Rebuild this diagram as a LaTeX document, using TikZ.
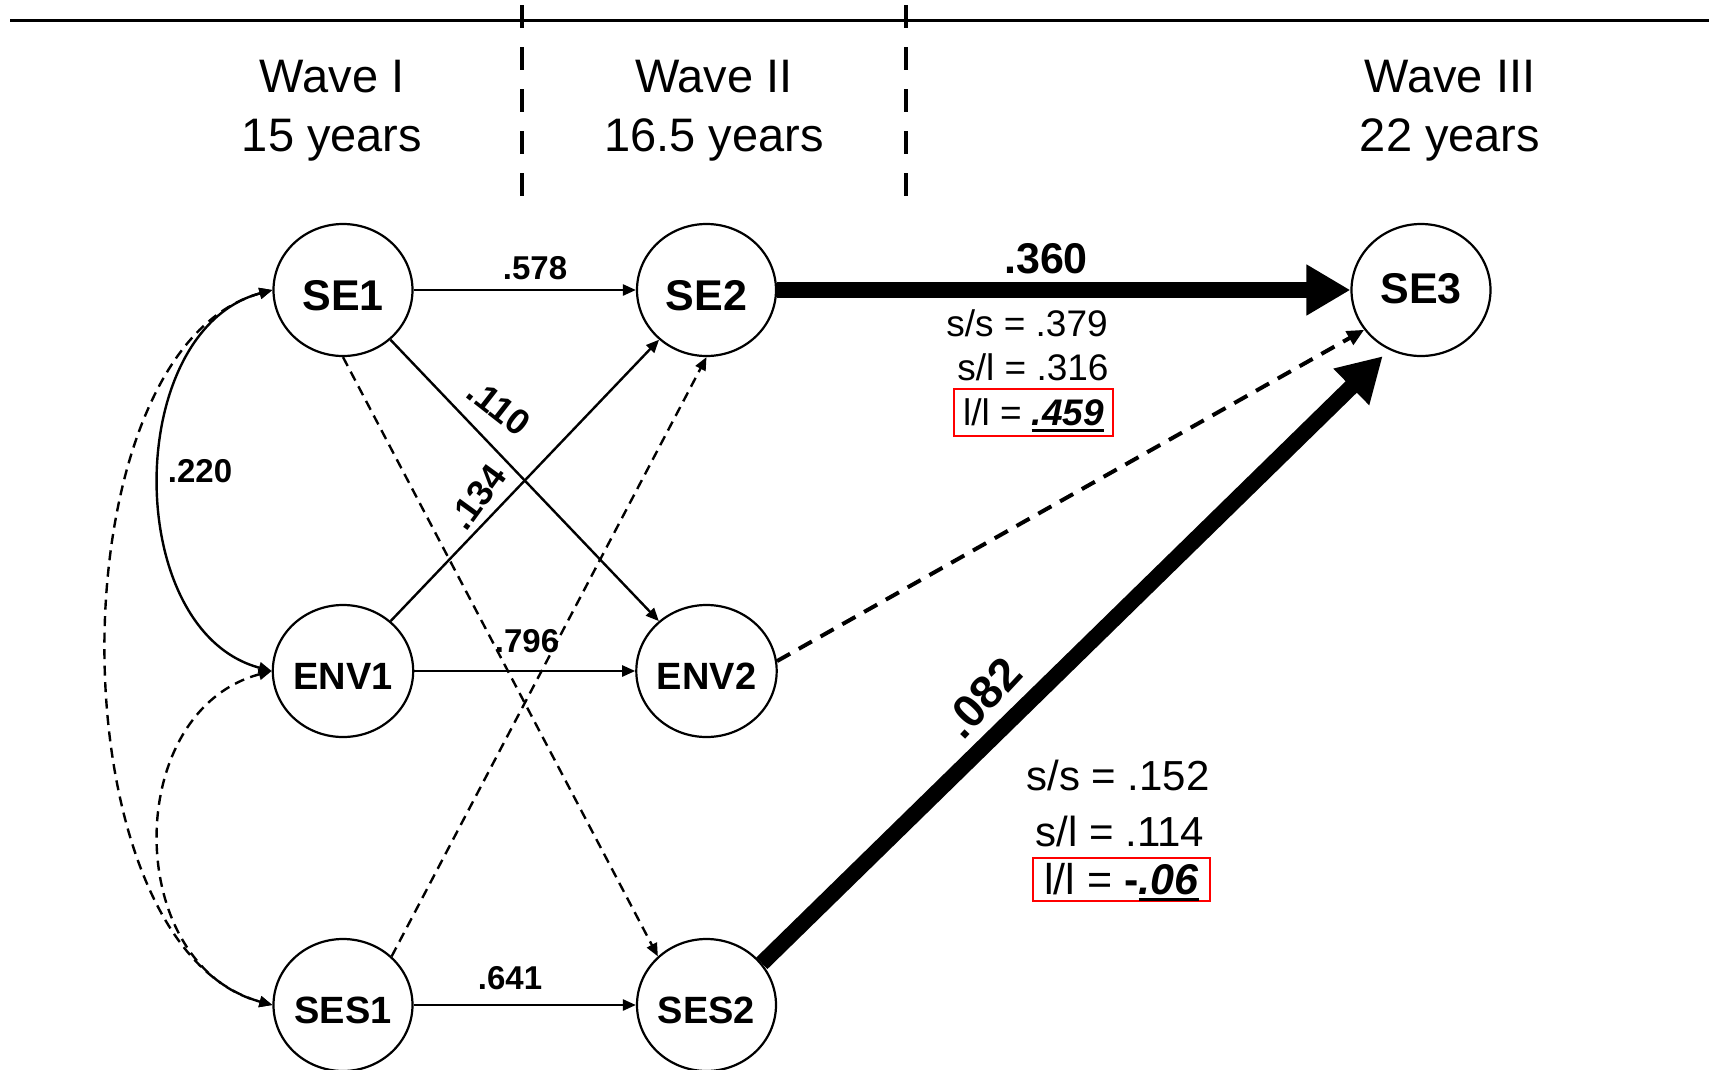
\documentclass[tikz,border=0pt]{standalone}
\usepackage{fontspec}
\setmainfont{Liberation Sans}
\usetikzlibrary{arrows.meta,shapes.geometric}
\newcommand{\ulx}[1]{\setbox0\hbox{#1}\rlap{\rule[-6pt]{\wd0}{3pt}}\box0}
\begin{document}
\begin{tikzpicture}[x=1pt,y=-1pt,
  every node/.style={inner sep=0pt},
  var/.style={ellipse,draw,line width=2.2pt,minimum width=139pt,minimum height=132pt,
    font=\bfseries\fontsize{38}{40}\selectfont,text height=37pt,text depth=0pt},
  varbig/.style={var,font=\bfseries\fontsize{43}{45}\selectfont,text height=41pt},
  lab/.style={text height=#1,text depth=0pt},
  coef/.style={lab=23.8pt,font=\bfseries\fontsize{33}{35}\selectfont},
  coefrot/.style={lab=25.9pt,font=\bfseries\fontsize{36}{38}\selectfont},
  coefbig/.style={lab=31pt,font=\bfseries\fontsize{43}{45}\selectfont},
  coefhuge/.style={lab=33pt,font=\bfseries\fontsize{46}{48}\selectfont},
  stat/.style={lab=26.6pt,font=\fontsize{37}{39}\selectfont},
  statb/.style={lab=30.2pt,font=\fontsize{42}{44}\selectfont},
  redbox/.style={draw=red,line width=2pt},
  wave/.style={align=center,font=\fontsize{47}{59}\selectfont},
  arrthin/.style={line width=2.4pt,-{Triangle[length=13pt,width=11pt]}},
  arrdash/.style={arrthin,dash pattern=on 10pt off 6.5pt},
  arrmed/.style={line width=4pt,dash pattern=on 15pt off 10pt,-{Triangle[length=17pt,width=15pt]}},
  arrbig/.style={line width=16pt,-{Triangle[length=44pt,width=48pt]}},
  arrboth/.style={line width=2.4pt,{Triangle[length=13pt,width=11pt]}-{Triangle[length=13pt,width=11pt]}},
  arrbothdash/.style={arrboth,dash pattern=on 10pt off 6.5pt},
  divider/.style={line width=4.5pt,dash pattern=on 23pt off 19pt}
]
\useasboundingbox (0,0) rectangle (1709,1069);

% header
\draw[line width=3pt] (10,20) -- (1709,20);
\draw[divider] (522,5) -- (522,197);
\draw[divider] (906,5) -- (906,197);
\node[wave] (w1) at (332,110.5) {Wave I\\15 years};
\node[wave] (w2) at (714,110.5) {Wave II\\16.5 years};
\node[wave] (w3) at (1450,110.5) {Wave III\\22 years};

% variables
\node[varbig] (SE1) at (343,290) {SE1};
\node[varbig] (SE2) at (706.5,290) {SE2};
\node[varbig,text height=27pt] (SE3) at (1421,290) {SE3};
\node[var] (ENV1) at (343,671) {ENV1};
\node[var] (ENV2) at (706.5,671) {ENV2};
\node[var] (SES1) at (343,1005) {SES1};
\node[var] (SES2) at (706.5,1005) {SES2};

% paths
\draw[arrthin] (SE1) -- (SE2);
\draw[arrthin] (SE1) -- (ENV2);
\draw[arrthin] (ENV1) -- (SE2);
\draw[arrthin] (ENV1) -- (ENV2);
\draw[arrthin] (SES1) -- (SES2);
\draw[arrdash] (SE1.south) -- (SES2.135);
\draw[arrdash] (SES1.45) -- (SE2.south);
\draw[arrbig] (SE2) -- (SE3);
\draw[arrbig,shorten >=9pt] (SES2.37) -- (SE3.242);
\draw[arrmed] (ENV2.8) -- (SE3.215);

% correlations
\draw[arrboth] (SE1.west) .. controls +(-150,40) and +(-150,-40) .. (ENV1.west);
\draw[arrbothdash] (ENV1.west) .. controls +(-150,40) and +(-150,-40) .. (SES1.west);
\draw[arrbothdash] (SE1.west) .. controls +(-220,60) and +(-220,-60) .. (SES1.west);

% coefficients
\node[coef] (l578) at (535,268) {.578};
\node[coef] (l220) at (200,471) {.220};
\node[coef] (l796) at (527,641) {.796};
\node[coef] (l641) at (510,978) {.641};
\node[coefrot,rotate=-38] (l110) at (499,407) {.110};
\node[coefrot,rotate=54] (l134) at (477,497) {.134};
\node[coefbig] (l360) at (1046,258) {.360};
\node[coefhuge,rotate=47] (l082) at (982,697) {.082};

% stats
\node[stat] (ss1) at (1027,323) {s/s = .379};
\node[stat] (sl1) at (1033,367) {s/l = .316};
\node[stat,redbox,minimum width=159pt,minimum height=47pt] (ll1) at (1033.5,412.5)
  {l/l = \ulx{\textbf{\textit{.459}}}};
\node[statb] (ss2) at (1118,775) {s/s = .152};
\node[statb] (sl2) at (1120,831) {s/l = .114};
\node[statb,redbox,lab=31pt,font=\fontsize{43}{45}\selectfont,minimum width=177pt,minimum height=43pt] (ll2) at (1121.5,879)
  {l/l = \textbf{-}\ulx{\textbf{\textit{.06}}}};
\end{tikzpicture}
\end{document}
